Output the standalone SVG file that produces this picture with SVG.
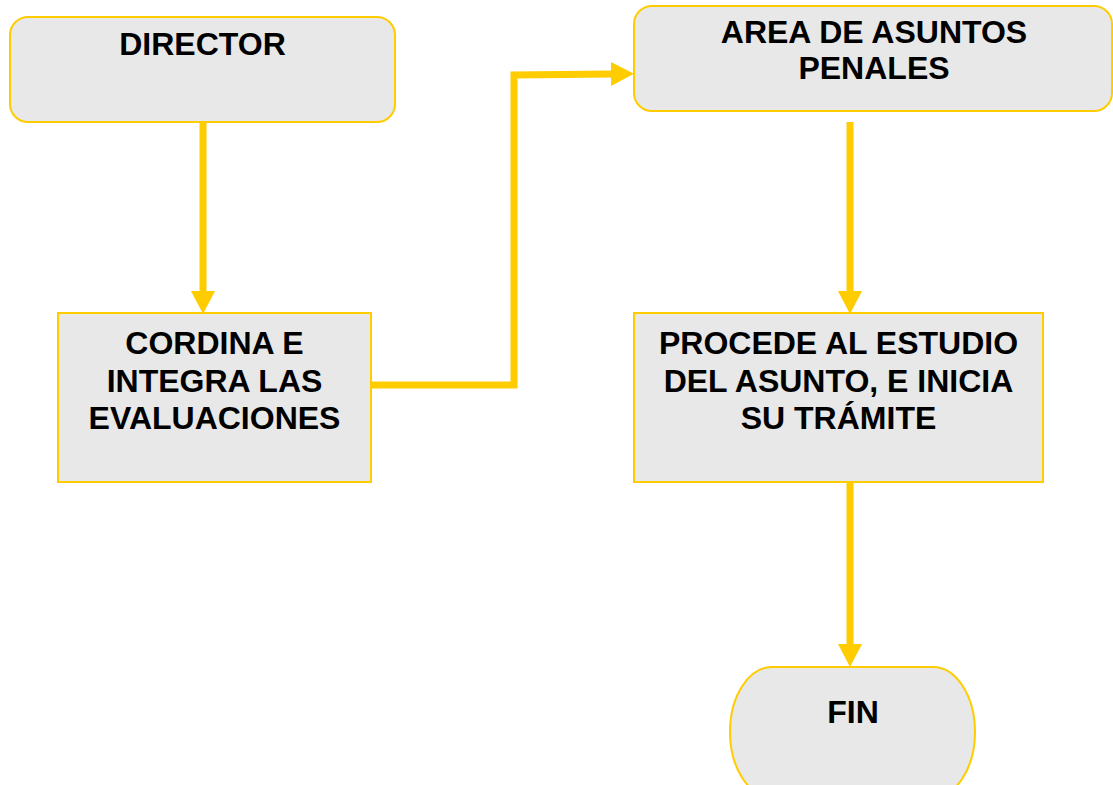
<svg xmlns="http://www.w3.org/2000/svg" width="1113" height="785" viewBox="0 0 1113 785">
<style>
.box{fill:#E8E8E8;stroke:#FFCC00;stroke-width:2}
.t{font-family:"Liberation Sans",Arial,sans-serif;font-weight:bold;font-size:32px;fill:#000;text-anchor:middle}
.c{fill:none;stroke:#FFCC00;stroke-width:7;stroke-linejoin:miter}
</style>
<defs>
<marker id="ah" markerUnits="userSpaceOnUse" markerWidth="24" markerHeight="24" refX="0" refY="12" orient="auto" viewBox="0 0 24 24">
<path d="M0,0 L23,12 L0,24 z" fill="#FFCC00"/>
</marker>
</defs>
<rect width="1113" height="785" fill="#fff"/>
<g id="connectors">
<path class="c" d="M203,122 V291" marker-end="url(#ah)"/>
<path class="c" d="M371,385 H514 V75 L611,74" marker-end="url(#ah)"/>
<path class="c" d="M850,122 V291" marker-end="url(#ah)"/>
<path class="c" d="M850,482 V644" marker-end="url(#ah)"/>
</g>
<g id="director">
<rect class="box" x="10" y="17" width="385" height="105" rx="18"/>
<text class="t" x="202.5" y="55">DIRECTOR</text>
</g>
<g id="cordina">
<rect class="box" x="58" y="313" width="313" height="169"/>
<text class="t" x="214.5" y="354">CORDINA E</text>
<text class="t" x="214.5" y="392">INTEGRA LAS</text>
<text class="t" x="214.5" y="429">EVALUACIONES</text>
</g>
<g id="area">
<rect class="box" x="634" y="6" width="478" height="105" rx="18"/>
<text class="t" x="874" y="43">AREA DE ASUNTOS</text>
<text class="t" x="874" y="79">PENALES</text>
</g>
<g id="procede">
<rect class="box" x="634" y="313" width="409" height="169"/>
<text class="t" x="838.5" y="354">PROCEDE AL ESTUDIO</text>
<text class="t" x="838.5" y="392">DEL ASUNTO, E INICIA</text>
<text class="t" x="838.5" y="429">SU TRÁMITE</text>
</g>
<g id="fin">
<rect class="box" x="730" y="667" width="245" height="130" rx="42" ry="65"/>
<text class="t" x="853" y="723">FIN</text>
</g>
</svg>
